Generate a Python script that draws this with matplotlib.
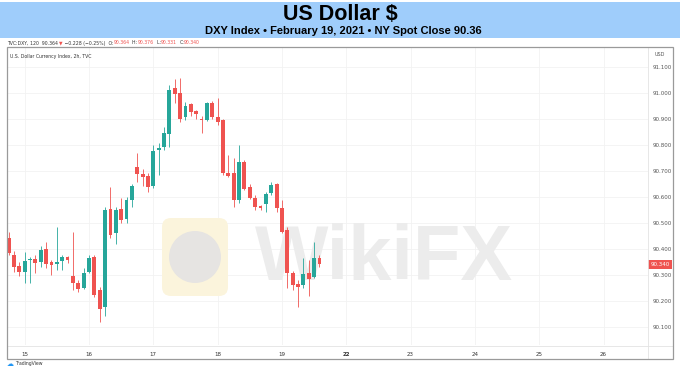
import matplotlib
matplotlib.use('Agg')
import matplotlib.pyplot as plt
from matplotlib.patches import Rectangle, FancyBboxPatch, Ellipse

# 2h candles, DXY
opens = [90.44, 90.375, 90.333, 90.31, 90.357, 90.36, 90.35, 90.398, 90.348, 90.343,
         90.352, 90.367, 90.294, 90.268, 90.249, 90.31, 90.367, 90.24, 90.175, 90.552,
         90.46, 90.552, 90.514, 90.587, 90.713, 90.687, 90.679, 90.64, 90.78, 90.79,
         90.84, 91.018, 91.0, 90.906, 90.956, 90.93, 90.9, 90.895, 90.96, 90.906,
         90.895, 90.69, 90.69, 90.587, 90.733, 90.637, 90.595, 90.564, 90.572, 90.614,
         90.648, 90.556, 90.471, 90.306, 90.264, 90.26, 90.306, 90.29, 90.364]
highs = [90.465, 90.39, 90.35, 90.387, 90.367, 90.375, 90.41, 90.425, 90.356, 90.483,
         90.375, 90.372, 90.464, 90.28, 90.325, 90.375, 90.375, 90.252, 90.56, 90.637,
         90.56, 90.594, 90.6, 90.65, 90.767, 90.705, 90.69, 90.8, 90.806, 90.87,
         91.03, 91.052, 91.056, 90.965, 90.962, 90.935, 90.91, 90.965, 90.97, 90.98,
         90.9, 90.76, 90.748, 90.8, 90.74, 90.65, 90.605, 90.57, 90.62, 90.655,
         90.652, 90.587, 90.483, 90.315, 90.28, 90.364, 90.356, 90.425, 90.376]
lows = [90.375, 90.31, 90.295, 90.268, 90.268, 90.305, 90.33, 90.325, 90.298, 90.317,
        90.317, 90.345, 90.24, 90.235, 90.245, 90.305, 90.215, 90.118, 90.14, 90.44,
        90.42, 90.498, 90.5, 90.56, 90.656, 90.642, 90.62, 90.633, 90.683, 90.78,
        90.79, 90.96, 90.887, 90.895, 90.91, 90.9, 90.845, 90.89, 90.9, 90.876,
        90.685, 90.676, 90.56, 90.575, 90.625, 90.59, 90.55, 90.55, 90.54, 90.605,
        90.54, 90.46, 90.249, 90.24, 90.175, 90.25, 90.22, 90.287, 90.331]
closes = [90.383, 90.329, 90.31, 90.352, 90.362, 90.344, 90.395, 90.34, 90.337, 90.348,
          90.367, 90.356, 90.268, 90.245, 90.306, 90.364, 90.221, 90.17, 90.548, 90.452,
          90.548, 90.51, 90.587, 90.64, 90.687, 90.675, 90.637, 90.775, 90.787, 90.845,
          91.01, 90.995, 90.9, 90.948, 90.925, 90.918, 90.895, 90.96, 90.906, 90.887,
          90.69, 90.68, 90.587, 90.733, 90.63, 90.595, 90.56, 90.556, 90.61, 90.644,
          90.556, 90.464, 90.306, 90.26, 90.253, 90.302, 90.283, 90.364, 90.34]

day_labels = ['15', '16', '17', '18', '19', '22', '23', '24', '25', '26']
day_pos = [3, 15, 27, 39, 51, 63, 75, 87, 99, 111]
price_ticks = [90.1, 90.2, 90.3, 90.4, 90.5, 90.6, 90.7, 90.8, 90.9, 91.0, 91.1]
last_price = 90.34

green = '#26a69a'
red = '#ef5350'
W, H = 680, 370

fig = plt.figure(figsize=(6.8, 3.7), dpi=100)
fig.patch.set_facecolor('white')

# banner
fig.patches.append(Rectangle((0, 1 - 37.5 / H), 1, 35.5 / H, transform=fig.transFigure,
                             facecolor='#9fcdfb', edgecolor='none', zorder=0))
fig.text(0.5, 1 - 15 / H, 'US Dollar $', ha='center', va='center', fontsize=15.5,
         fontweight='bold', family='Liberation Sans')
fig.text(0.505, 1 - 31 / H, 'DXY Index \u2022 February 19, 2021 \u2022 NY Spot Close 90.36',
         ha='center', va='center', fontsize=8, fontweight='bold', family='Liberation Sans')

# info line: pieces chained one after the other
renderer = fig.canvas.get_renderer()
pieces = [('TVC:DXY, 120  90.364 ', '#333333'), ('\u25bc', red),
          (' \u22120.228 (\u22120.25%)  O:', '#333333'), ('90.364', red),
          ('  H:', '#333333'), ('90.376', red), ('  L:', '#333333'), ('90.331', red),
          ('  C:', '#333333'), ('90.340', red)]
xpos = 7.0
for s, c in pieces:
    t = fig.text(xpos / W, 1 - 43 / H, s, fontsize=3.3, va='center', color=c)
    xpos += t.get_window_extent(renderer).width

# outer frame
fig.patches.append(Rectangle((6.7 / W, 1 - 359 / H), (673 - 6.7) / W, (359 - 47) / H,
                             transform=fig.transFigure, facecolor='none',
                             edgecolor='#9a9a9a', linewidth=0.9, zorder=5))

# watermark
fig.patches.append(FancyBboxPatch((162 / W, 1 - 296 / H), 66 / W, 78 / H,
                                  boxstyle='round,pad=0,rounding_size=%f' % (9 / W),
                                  mutation_aspect=W / H, transform=fig.transFigure,
                                  facecolor='#fbf4dc', edgecolor='none', zorder=0.5))
fig.patches.append(Ellipse((195 / W, 1 - 257 / H), 52 / W, 52 / H, transform=fig.transFigure,
                           facecolor='#e6e4e2', edgecolor='none', zorder=0.6))

ax = fig.add_axes([7 / W, 1 - 345 / H, (648 - 7) / W, (345 - 47) / H])
ax.patch.set_alpha(0)
ax.set_xlim(-0.3, 119.3)
ax.set_ylim(90.03, 91.176)

ax.text(46, 90.36, 'WikiFX', fontsize=56, fontweight='bold', color='#ececec',
        ha='left', va='center', zorder=0.6, family='Liberation Sans')

for g in day_pos:
    ax.axvline(g, color='#f2f2f2', linewidth=0.6, zorder=0.2)
for t in price_ticks:
    ax.axhline(t, color='#f2f2f2', linewidth=0.6, zorder=0.2)

x = list(range(len(opens)))
cols = [green if c >= o else red for o, c in zip(opens, closes)]
ax.vlines(x, lows, highs, colors=cols, linewidth=0.6, zorder=2)
bottoms = [min(o, c) for o, c in zip(opens, closes)]
heights = [max(abs(c - o), 0.004) for o, c in zip(opens, closes)]
ax.bar(x, heights, bottom=bottoms, width=0.72, color=cols, linewidth=0, zorder=3)

for s in ax.spines.values():
    s.set_visible(False)
ax.yaxis.tick_right()
ax.set_yticks(price_ticks)
ax.set_yticklabels(['%.3f' % t for t in price_ticks], fontsize=4, color='#555555')
ax.tick_params(axis='y', length=0, pad=3)
ax.set_xticks(day_pos)
ax.set_xticklabels(day_labels, fontsize=4, color='#333333')
ax.get_xticklabels()[5].set_fontweight('bold')
ax.tick_params(axis='x', length=0, pad=5)

ax.text(0.005, 0.975, 'U.S. Dollar Currency Index, 2h, TVC', transform=ax.transAxes,
        fontsize=3.3, color='#333333', va='top')

# axis separators
fig.lines.append(plt.Line2D([648 / W, 648 / W], [1 - 359 / H, 1 - 47 / H], transform=fig.transFigure,
                            color='#e3e3e3', linewidth=0.6))
fig.lines.append(plt.Line2D([7 / W, 673 / W], [1 - 345.5 / H, 1 - 345.5 / H], transform=fig.transFigure,
                            color='#e3e3e3', linewidth=0.6))
fig.text(660 / W, 1 - 55 / H, 'USD', fontsize=3.5, color='#555555', ha='center', va='center')

# last price tag
ax.text(1.004, last_price, '%.3f' % last_price, transform=ax.get_yaxis_transform(),
        fontsize=4, color='white', va='center', ha='left', zorder=6,
        bbox=dict(boxstyle='square,pad=0.4', facecolor=red, edgecolor='none'))

# footer
fig.text(7 / W, 1 - 364 / H, '\u2601', fontsize=5, color='#2196f3', va='center')
fig.text(15 / W, 1 - 364 / H, 'TradingView', fontsize=3.3, color='#333333', va='center')

fig.savefig('out.png', dpi=100)
